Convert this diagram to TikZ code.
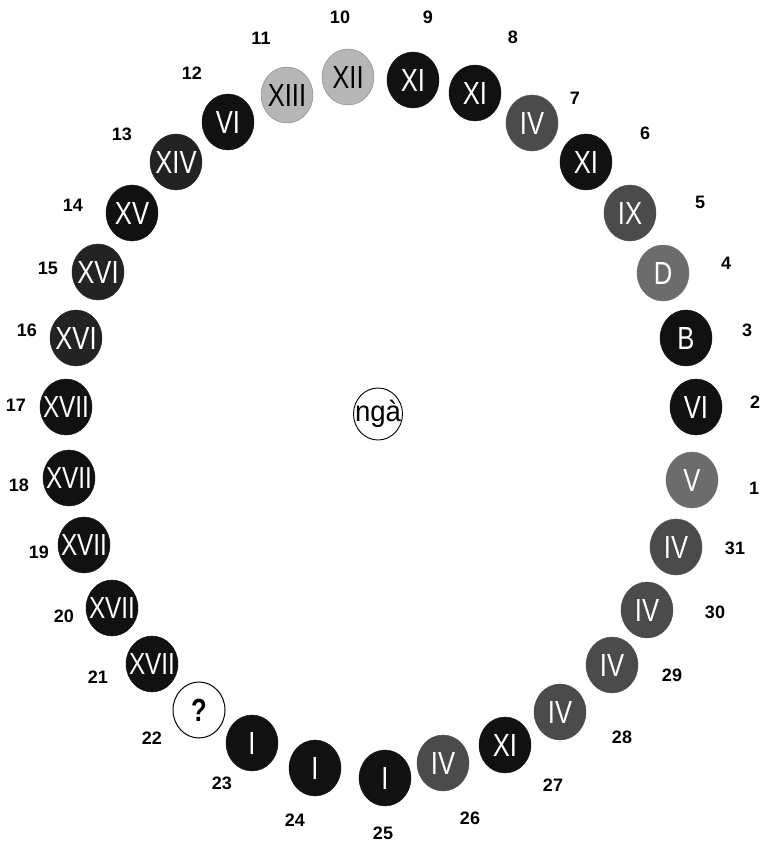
\documentclass[tikz,border=0pt]{standalone}
\usepackage{fontspec}
\usepackage{graphicx}
\setmainfont{Liberation Sans}
\usetikzlibrary{shapes.geometric}
\definecolor{cblack}{HTML}{111111}
\definecolor{cdark}{HTML}{4B4B4B}
\definecolor{cmid}{HTML}{6C6C6C}
\definecolor{clight}{HTML}{B6B6B6}
\definecolor{cspeck}{HTML}{232323}
\newsavebox\rnbox
\newcommand\rn[1]{\sbox\rnbox{\fontsize{32}{32}\selectfont\scalebox{0.8}[1]{#1}}%
  \makebox[0pt]{\ifdim\wd\rnbox>46pt \resizebox{46pt}{!}{\usebox\rnbox}\else\usebox\rnbox\fi}}
\tikzset{
  disc/.style={ellipse, minimum width=52pt, minimum height=56pt, inner sep=0pt, text=white},
  blk/.style={disc, fill=cblack, draw=cblack},
  drk/.style={disc, fill=cdark, draw=cdark},
  mid/.style={disc, fill=cmid, draw=cmid},
  lgt/.style={disc, fill=clight, draw=gray, text=black},
  spk/.style={disc, fill=cspeck, draw=cspeck},
  wht/.style={disc, fill=white, draw=black, line width=1pt, text=black},
  num/.style={font=\fontsize{18}{18}\selectfont\bfseries, text=black, inner sep=0pt}
}
\begin{document}
\begin{tikzpicture}[x=1pt, y=-1pt]
\useasboundingbox[fill=white] (0,0) rectangle (760,844);
% discs
\node[mid] (c1)  at (692,480) {\rn{V}};
\node[blk] (c2)  at (696,407) {\rn{VI}};
\node[blk] (c3)  at (686,338) {\rn{B}};
\node[mid] (c4)  at (663,273) {\rn{D}};
\node[drk] (c5)  at (630,213) {\rn{IX}};
\node[blk] (c6)  at (586,162) {\rn{XI}};
\node[drk] (c7)  at (532,123) {\rn{IV}};
\node[blk] (c8)  at (475,93)  {\rn{XI}};
\node[blk] (c9)  at (413,80)  {\rn{XI}};
\node[lgt] (c10) at (348,77)  {\rn{XII}};
\node[lgt] (c11) at (287,95)  {\rn{XIII}};
\node[blk] (c12) at (228,122) {\rn{VI}};
\node[spk] (c13) at (176,162) {\rn{XIV}};
\node[blk] (c14) at (132,213) {\rn{XV}};
\node[spk] (c15) at (98,272)  {\rn{XVI}};
\node[spk] (c16) at (76,338)  {\rn{XVI}};
\node[blk] (c17) at (66,407)  {\rn{XVII}};
\node[blk] (c18) at (69,478)  {\rn{XVII}};
\node[blk] (c19) at (84,545)  {\rn{XVII}};
\node[blk] (c20) at (112,608) {\rn{XVII}};
\node[blk] (c21) at (152,664) {\rn{XVII}};
\node[wht] (c22) at (199,710) {\rn{\bfseries ?}};
\node[blk] (c23) at (252,743) {\rn{I}};
\node[blk] (c24) at (315,768) {\rn{I}};
\node[blk] (c25) at (385,778) {\rn{I}};
\node[drk] (c26) at (443,763) {\rn{IV}};
\node[blk] (c27) at (505,745) {\rn{XI}};
\node[drk] (c28) at (560,712) {\rn{IV}};
\node[drk] (c29) at (612,665) {\rn{IV}};
\node[drk] (c30) at (647,610) {\rn{IV}};
\node[drk] (c31) at (676,547) {\rn{IV}};
% centre
\node[ellipse, draw=black, fill=white, line width=0.9pt, minimum width=49pt, minimum height=52pt,
  inner sep=0pt] (ctr) at (378,414) {\makebox[0pt]{\fontsize{29}{29}\selectfont\scalebox{0.95}[1]{ngà}}};
% labels
\node[num] (l1)  at (754,488) {1};
\node[num] (l2)  at (755,402) {2};
\node[num] (l3)  at (747,330) {3};
\node[num] (l4)  at (726,263) {4};
\node[num] (l5)  at (700,202) {5};
\node[num] (l6)  at (645,133) {6};
\node[num] (l7)  at (575,98)  {7};
\node[num] (l8)  at (513,37)  {8};
\node[num] (l9)  at (428,17)  {9};
\node[num] (l10) at (340,17)  {10};
\node[num] (l11) at (261,38)  {11};
\node[num] (l12) at (192,73)  {12};
\node[num] (l13) at (122,134) {13};
\node[num] (l14) at (73,205)  {14};
\node[num] (l15) at (48,268)  {15};
\node[num] (l16) at (27,330)  {16};
\node[num] (l17) at (16,405)  {17};
\node[num] (l18) at (19,485)  {18};
\node[num] (l19) at (39,552)  {19};
\node[num] (l20) at (64,616)  {20};
\node[num] (l21) at (98,677)  {21};
\node[num] (l22) at (152,738) {22};
\node[num] (l23) at (222,783) {23};
\node[num] (l24) at (295,820) {24};
\node[num] (l25) at (383,833) {25};
\node[num] (l26) at (470,818) {26};
\node[num] (l27) at (553,785) {27};
\node[num] (l28) at (622,737) {28};
\node[num] (l29) at (672,675) {29};
\node[num] (l30) at (715,612) {30};
\node[num] (l31) at (735,548) {31};
\end{tikzpicture}
\end{document}
